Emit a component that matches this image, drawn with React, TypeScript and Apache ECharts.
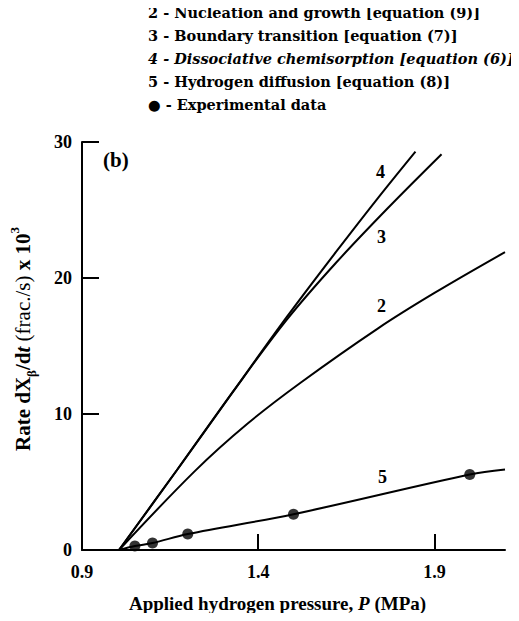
import React, { useEffect, useRef } from "react";
import * as echarts from "echarts";

// Curve 2 - Nucleation and growth
const curve2P = [1.005, 1.22, 1.37, 1.52, 1.74, 1.9, 2.1];
const curve2R = [0, 5.8, 9.3, 12.3, 16.3, 18.9, 21.9];
// Curve 3 - Boundary transition
const curve3P = [1.005, 1.17, 1.33, 1.48, 1.62, 1.77, 1.92];
const curve3R = [0, 5.9, 11.7, 16.9, 21.1, 25.2, 29.1];
// Curve 4 - Dissociative chemisorption
const curve4P = [1.005, 1.17, 1.33, 1.48, 1.62, 1.74, 1.846];
const curve4R = [0, 5.9, 11.7, 17.1, 21.9, 25.9, 29.3];
// Curve 5 - Hydrogen diffusion
const curve5P = [1.005, 1.05, 1.1, 1.2, 1.5, 2.0, 2.1];
const curve5R = [0, 0.29, 0.51, 1.17, 2.63, 5.55, 5.92];
// Experimental data
const expP = [1.05, 1.1, 1.2, 1.5, 2.0];
const expR = [0.29, 0.51, 1.17, 2.63, 5.55];

const xTicks = [0.9, 1.4, 1.9];
const yTicks = [0, 10, 20, 30];

const legendLines = [
  "2 - Nucleation and growth [equation (9)]",
  "3 - Boundary transition [equation (7)]",
  "4 - Dissociative chemisorption [equation (6)]",
  "5 - Hydrogen diffusion [equation (8)]",
  "\u25CF - Experimental data",
];
const curveLabels = ["2", "3", "4", "5"];

const FONT = '"Liberation Serif", "DejaVu Serif", serif';
const LFONT = '"DejaVu Serif", "Liberation Serif", serif';

const zip = (a: number[], b: number[]) => a.map((v, i) => [v, b[i]]);

export default function App() {
  const ref = useRef<HTMLDivElement>(null);
  useEffect(() => {
    if (!ref.current) return;
    const chart = echarts.init(ref.current, null, { renderer: "svg" });
    const lineStyle = { color: "#000", width: 2 };
    const lineSeries = (name: string, p: number[], r: number[]) => ({
      name,
      type: "line",
      data: zip(p, r),
      smooth: 0.35,
      showSymbol: false,
      lineStyle,
      itemStyle: { color: "#000" },
      silent: true,
    });
    const yRich = (extra: any) => ({
      fontFamily: FONT,
      fontWeight: "bold",
      fontSize: 21,
      color: "#000",
      lineHeight: 30,
      verticalAlign: "middle",
      ...extra,
    });
    chart.setOption({
      animation: false,
      backgroundColor: "#fff",
      grid: { left: 80, right: 14, top: 142, bottom: 71 },
      xAxis: {
        type: "value",
        min: 0.9,
        max: 2.1,
        name: "{n|Applied hydrogen pressure, }{i|P}{n| (MPa)}",
        nameLocation: "middle",
        nameGap: 44,
        nameTextStyle: {
          padding: [0, 32, 0, 0],
          rich: {
            n: { fontFamily: FONT, fontWeight: "bold", fontSize: 19, color: "#000" },
            i: { fontFamily: FONT, fontWeight: "bold", fontStyle: "italic", fontSize: 19, color: "#000" },
          },
        },
        axisLine: { show: true, lineStyle: { color: "#000", width: 2 } },
        axisTick: { show: true, inside: true, length: 16, customValues: xTicks, lineStyle: { color: "#000", width: 2 } },
        axisLabel: {
          customValues: xTicks,
          formatter: (v: number) => v.toFixed(1),
          fontFamily: FONT,
          fontWeight: "bold",
          fontSize: 18,
          color: "#000",
          margin: 13,
        },
        splitLine: { show: false },
      },
      yAxis: {
        type: "value",
        min: 0,
        max: 30,
        interval: 10,
        name: "{n|Rate d}{n|X}{s|\u03B2}{n|/d}{i|t}{r| (frac./s) }{n|x 10}{p|3}",
        nameLocation: "middle",
        nameGap: 44,
        nameTextStyle: {
          padding: [0, 0, 0, 14],
          rich: {
            n: yRich({}),
            i: yRich({ fontStyle: "italic" }),
            r: yRich({ fontWeight: "normal" }),
            s: yRich({ fontSize: 13, verticalAlign: "bottom" }),
            p: yRich({ fontSize: 13, verticalAlign: "top" }),
          },
        },
        axisLine: { show: true, lineStyle: { color: "#000", width: 2 } },
        axisTick: { show: true, inside: true, length: 17, customValues: yTicks, lineStyle: { color: "#000", width: 2 } },
        axisLabel: {
          customValues: yTicks,
          fontFamily: FONT,
          fontWeight: "bold",
          fontSize: 18,
          color: "#000",
          margin: 10,
        },
        splitLine: { show: false },
      },
      series: [
        lineSeries("2", curve2P, curve2R),
        lineSeries("3", curve3P, curve3R),
        lineSeries("4", curve4P, curve4R),
        lineSeries("5", curve5P, curve5R),
        {
          name: "Experimental data",
          type: "scatter",
          data: zip(expP, expR),
          symbol: "circle",
          symbolSize: 11,
          itemStyle: { color: "#000" },
          silent: true,
        },
      ],
      graphic: [
        ...legendLines.map((t, i) => ({
          type: "text",
          left: 148,
          top: 5 + i * 23,
          style: {
            text: t,
            fill: "#000",
            font: `${i === 2 ? "italic " : ""}bold 14.5px ${LFONT}`,
          },
        })),
        {
          type: "text",
          left: 103,
          top: 149,
          style: { text: "(b)", fill: "#000", font: `bold 21px ${FONT}` },
        },
        ...curveLabels.map((t, i) => ({
          type: "text",
          left: [377, 377, 376, 378][i],
          top: [297, 228, 163, 468][i],
          style: { text: t, fill: "#000", font: `bold 18px ${FONT}` },
        })),
      ],
    });
    return () => chart.dispose();
  }, []);
  return <div ref={ref} style={{ width: 519, height: 621, margin: -8 }} />;
}
